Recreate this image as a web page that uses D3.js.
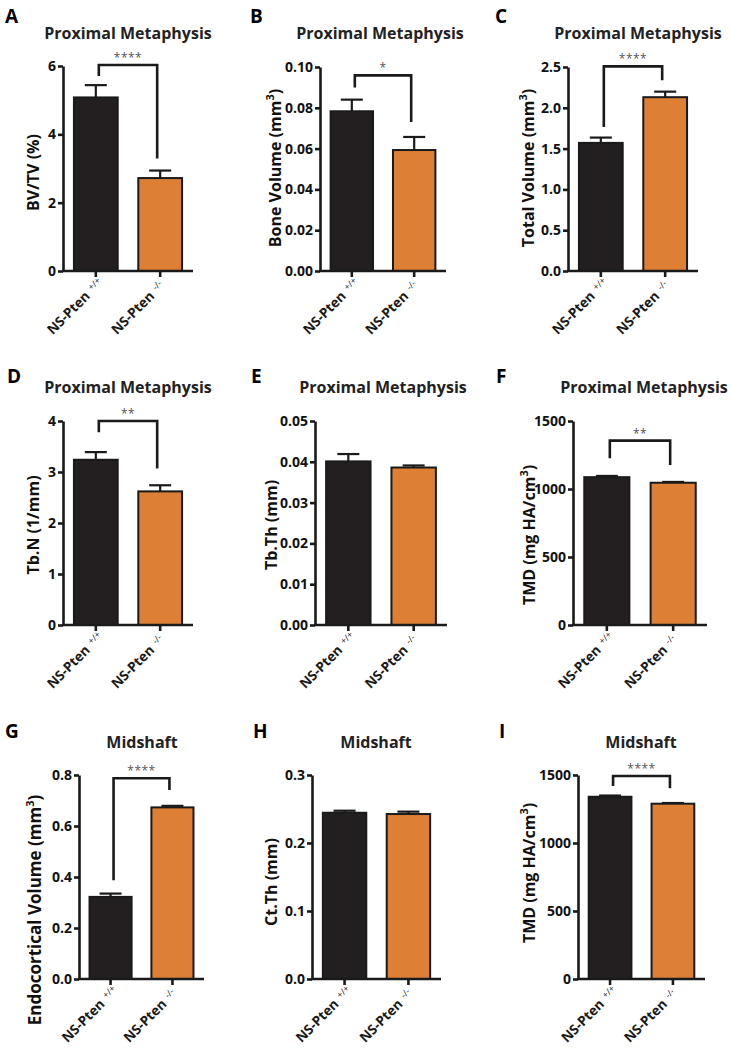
<!DOCTYPE html>
<html><head><meta charset="utf-8">
<script src="https://cdn.jsdelivr.net/npm/d3@7"></script>
<style>body{margin:0;background:#fff;} text{font-family:"Open Sans",sans-serif;}</style>
</head><body><svg id="c" width="731" height="1050"></svg>
<script>
// ---- data ----
const panelLetters = ["A","B","C","D","E","F","G","H","I"];
const panelTitles = ["Proximal Metaphysis","Proximal Metaphysis","Proximal Metaphysis",
  "Proximal Metaphysis","Proximal Metaphysis","Proximal Metaphysis","Midshaft","Midshaft","Midshaft"];
const yLabelMain = ["BV/TV (%)","Bone Volume (mm","Total Volume (mm","Tb.N (1/mm)","Tb.Th (mm)",
  "TMD (mg HA/cm","Endocortical Volume (mm","Ct.Th (mm)","TMD (mg HA/cm"];
const yLabelSup = ["","3","3","","","3","3","","3"];
const yLabelEnd = ["",")",")","","",")",")","",")"];
const categories = ["NS-Pten","NS-Pten"];
const genotypes = ["+/+","-/-"];
const yMax = [6,0.10,2.5,4,0.05,1500,0.8,0.3,1500];
const yTickStep = [2,0.02,0.5,1,0.01,500,0.2,0.1,500];
const yTickFormat = ["d",".2f",".1f","d",".2f","d",".1f",".1f","d"];
const meanWT = [5.08,0.0783,1.57,3.24,0.0401,1087,0.322,0.2445,1340];
const semWT  = [0.36,0.0057,0.065,0.15,0.0018,9,0.013,0.003,9];
const meanKO = [2.72,0.0593,2.13,2.62,0.0386,1046,0.673,0.2426,1289];
const semKO  = [0.22,0.0064,0.068,0.12,0.0005,6,0.006,0.0035,5];
const sigStars = ["****","*","****","**","","**","****","","****"];
const bracketTop = [6.03,0.0959,2.508,4.0,null,1356,0.787,null,1493];
const bracketLeftEnd = [5.71,0.0899,1.765,3.78,null,1226,0.3875,null,1419];
const bracketRightEnd = [3.29,0.073,2.337,3.07,null,1177,0.741,null,1402];

// ---- layout (positions / styles) ----
const layout = [
  {x0:63, x1:193, y0:66, y1:271, lx:5,  ly:23, tx:128, ty:39, labOff:30, labShift:4},
  {x0:320,x1:446, y0:67, y1:271, lx:250,ly:23, tx:380, ty:39, labOff:45, labShift:-1},
  {x0:568,x1:698, y0:67, y1:271, lx:495,ly:23, tx:638, ty:39, labOff:40, labShift:-1},
  {x0:63, x1:193, y0:421,y1:625, lx:7,  ly:383,tx:128, ty:393,labOff:30, labShift:2},
  {x0:315,x1:447, y0:421,y1:625, lx:251,ly:383,tx:383, ty:393,labOff:44, labShift:2},
  {x0:573,x1:707, y0:421,y1:625, lx:496,ly:383,tx:644, ty:393,labOff:44, labShift:12},
  {x0:79, x1:204, y0:775,y1:979, lx:5,  ly:738,tx:142, ty:748,labOff:44, labShift:33},
  {x0:312,x1:441, y0:775,y1:979, lx:253,ly:738,tx:376, ty:748,labOff:41, labShift:5},
  {x0:578,x1:705, y0:775,y1:979, lx:499,ly:738,tx:641, ty:748,labOff:49, labShift:-4}
];
const barFill = ["#231f20","#dd7f35"];
const ink = "#1a1a1a";

const svg = d3.select("#c");

panelLetters.forEach((letter, i) => {
  const L = layout[i];
  const g = svg.append("g");
  const x = d3.scaleBand().domain([0,1]).range([L.x0, L.x1]).paddingInner(0.32).paddingOuter(0.17);
  const y = d3.scaleLinear().domain([0, yMax[i]]).range([L.y1, L.y0]);
  const ticks = d3.range(0, yMax[i] + yTickStep[i]/2, yTickStep[i]);

  g.append("text").attr("x", L.lx).attr("y", L.ly).text(letter)
    .attr("font-size", 19).attr("font-weight", 700).attr("fill", "#000");
  g.append("text").attr("x", L.tx).attr("y", L.ty).attr("text-anchor","middle").text(panelTitles[i])
    .attr("font-size", 16).attr("font-weight", 700).attr("fill", "#222");

  const means = [meanWT[i], meanKO[i]];
  const sems = [semWT[i], semKO[i]];
  [0,1].forEach(k => {
    const cx = x(k) + x.bandwidth()/2;
    g.append("line").attr("x1",cx).attr("x2",cx).attr("y1",y(means[k])).attr("y2",y(means[k]+sems[k]))
      .attr("stroke",ink).attr("stroke-width",2.2);
    g.append("line").attr("x1",cx-11).attr("x2",cx+11).attr("y1",y(means[k]+sems[k])).attr("y2",y(means[k]+sems[k]))
      .attr("stroke",ink).attr("stroke-width",2.2);
  });
  g.selectAll("rect.bar").data(means).enter().append("rect")
    .attr("x",(d,k)=>x(k)).attr("width",x.bandwidth())
    .attr("y",d=>y(d)).attr("height",d=>y(0)-y(d))
    .attr("fill",(d,k)=>barFill[k]).attr("stroke",ink).attr("stroke-width",2);

  const ya = g.append("g").attr("transform",`translate(${L.x0},0)`)
    .call(d3.axisLeft(y).tickValues(ticks).tickFormat(d3.format(yTickFormat[i])).tickSize(5).tickSizeOuter(0).tickPadding(2));
  ya.select(".domain").attr("stroke",ink).attr("stroke-width",2.6);
  ya.selectAll(".tick line").attr("stroke",ink).attr("stroke-width",2.6);
  ya.selectAll(".tick text").attr("font-size",14).attr("font-weight",700).attr("fill","#111")
    .attr("font-family",'"Open Sans",sans-serif');

  g.append("line").attr("x1",L.x0-1).attr("x2",L.x1).attr("y1",L.y1).attr("y2",L.y1)
    .attr("stroke",ink).attr("stroke-width",2.6);
  [0,1].forEach(k => {
    const cx = x(k) + x.bandwidth()/2;
    g.append("line").attr("x1",cx).attr("x2",cx).attr("y1",L.y1).attr("y2",L.y1+6)
      .attr("stroke",ink).attr("stroke-width",2.6);
    const ax = cx - 5, ay = L.y1 + 26;
    g.append("text").attr("x",ax).attr("y",ay).attr("text-anchor","end")
      .attr("transform",`rotate(-45,${ax},${ay})`).attr("font-size",13.5).attr("font-weight",700).attr("fill","#1a1a1a")
      .text(categories[k]);
    g.append("text").attr("x",ax + 5).attr("y",ay - 4).attr("text-anchor","start")
      .attr("transform",`rotate(-45,${ax},${ay})`).attr("font-size",9).attr("fill","#222")
      .text(genotypes[k]);
  });

  const lcx = L.x0 - L.labOff, lcy = (L.y0 + L.y1)/2 + L.labShift;
  const yl = g.append("text").attr("transform",`translate(${lcx},${lcy}) rotate(-90)`)
    .attr("text-anchor","middle").attr("dy","0.35em")
    .attr("font-size", i===6 ? 17 : 16).attr("font-weight",700).attr("fill","#111");
  yl.append("tspan").text(yLabelMain[i]);
  if (yLabelSup[i]) {
    yl.append("tspan").attr("font-size",11).attr("dy",-7).text(yLabelSup[i]);
    yl.append("tspan").attr("dy",7).text(yLabelEnd[i]);
  }

  if (sigStars[i]) {
    const xl = x(0) + x.bandwidth()/2 + 3, xr = x(1) + x.bandwidth()/2 - 3;
    g.append("path")
      .attr("d",`M${xl},${y(bracketLeftEnd[i])}V${y(bracketTop[i])}H${xr}V${y(bracketRightEnd[i])}`)
      .attr("fill","none").attr("stroke",ink).attr("stroke-width",2.6);
    g.append("text").attr("x",(xl+xr)/2).attr("y",y(bracketTop[i])-3).attr("text-anchor","middle")
      .attr("font-size",12).attr("fill","#555").attr("letter-spacing",0.5).text(sigStars[i]);
  }
});
</script></body></html>
